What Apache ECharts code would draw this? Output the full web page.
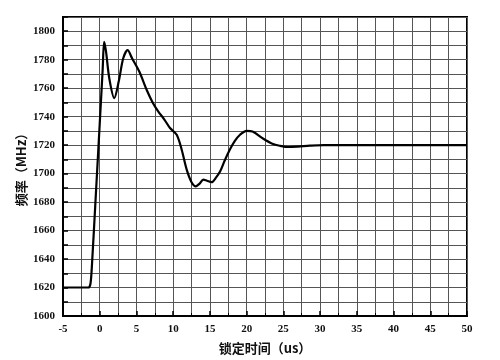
<!DOCTYPE html>
<html><head><meta charset="utf-8">
<script src="https://cdn.jsdelivr.net/npm/echarts@6/dist/echarts.min.js"></script>
<style>html,body{margin:0;padding:0;background:#fff}#c{width:500px;height:360px}</style>
</head><body><div id="c"></div>
<script>
const timeUs = [-5, -3, -1.6, -1.4, -1.25, -1.1, -0.5, 0, 0.4, 0.6, 0.85, 1.3, 1.98, 2.6, 3.2, 3.8, 4.4, 5.4, 6.4, 7.2, 7.98, 8.8, 9.57, 10.48, 11.16, 11.84, 12.5, 13.1, 13.6, 14.1, 14.6, 15.24, 15.8, 16.4, 17.0, 17.7, 18.4, 19.1, 20.0, 20.8, 22.27, 23.5, 24.5, 25.7, 27.0, 28.6, 30.5, 32, 35, 40, 45, 50];
const freqMHz = [1620, 1620, 1620, 1620.5, 1623, 1632, 1688, 1735, 1773, 1792.5, 1786, 1767, 1753, 1765, 1781, 1786.7, 1781, 1771.5, 1758.7, 1750, 1743.6, 1738, 1732, 1727.3, 1716.8, 1702.8, 1694, 1691.1, 1693, 1695.8, 1695, 1694, 1697, 1701.6, 1709, 1716.8, 1723, 1727.3, 1730, 1729.5, 1724.5, 1721, 1719.6, 1718.7, 1719, 1719.6, 1720, 1720, 1720, 1720, 1720, 1720];
const xTickLabels = [-5, 0, 5, 10, 15, 20, 25, 30, 35, 40, 45, 50];
const yTickLabels = [1600, 1620, 1640, 1660, 1680, 1700, 1720, 1740, 1760, 1780, 1800];
const xName = '锁定时间（us）';
const yName = '频率（MHz）';

const chart = echarts.init(document.getElementById('c'), null, {renderer: 'canvas'});
const labelFont = {fontFamily: '"Liberation Serif", "Times New Roman", serif', fontWeight: 'bold', fontSize: 11, color: '#111'};
const nameFont = {fontFamily: '"Noto Sans CJK SC", sans-serif', fontWeight: 'bold', fontSize: 13, color: '#111'};
chart.setOption({
  animation: false,
  grid: {left: 63, right: 33, top: 17, bottom: 43, show: true, borderColor: '#000', borderWidth: 2, backgroundColor: 'transparent'},
  xAxis: {
    type: 'value', min: -5, max: 50, interval: 5,
    name: xName, nameLocation: 'middle', nameGap: 26, nameTextStyle: nameFont,
    axisLine: {show: true, onZero: false, lineStyle: {color: '#000', width: 2}},
    axisTick: {show: true, inside: true, length: 5, lineStyle: {color: '#000', width: 1.5}},
    minorTick: {show: true, splitNumber: 2, length: 3, lineStyle: {color: '#000', width: 1}},
    splitLine: {show: true, lineStyle: {color: '#555', width: 1}},
    minorSplitLine: {show: true, lineStyle: {color: '#555', width: 1}},
    axisLabel: Object.assign({margin: 8, formatter: v => xTickLabels.includes(v) ? String(v) : ''}, labelFont)
  },
  yAxis: {
    type: 'value', min: 1600, max: 1810, interval: 10,
    name: yName, nameLocation: 'middle', nameGap: 35, nameMoveOverlap: false, nameRotate: 90, nameTextStyle: nameFont,
    axisLine: {show: true, onZero: false, lineStyle: {color: '#000', width: 2}},
    axisTick: {show: true, inside: true, length: 5, lineStyle: {color: '#000', width: 1.5}},
    splitLine: {show: true, lineStyle: {color: '#555', width: 1}},
    axisLabel: Object.assign({margin: 8, formatter: v => yTickLabels.includes(v) ? String(v) : ''}, labelFont)
  },
  series: [{
    type: 'line', showSymbol: false, smooth: 0.3,
    data: timeUs.map((t, i) => [t, freqMHz[i]]),
    lineStyle: {color: '#000', width: 2.2}
  }]
});
</script></body></html>
